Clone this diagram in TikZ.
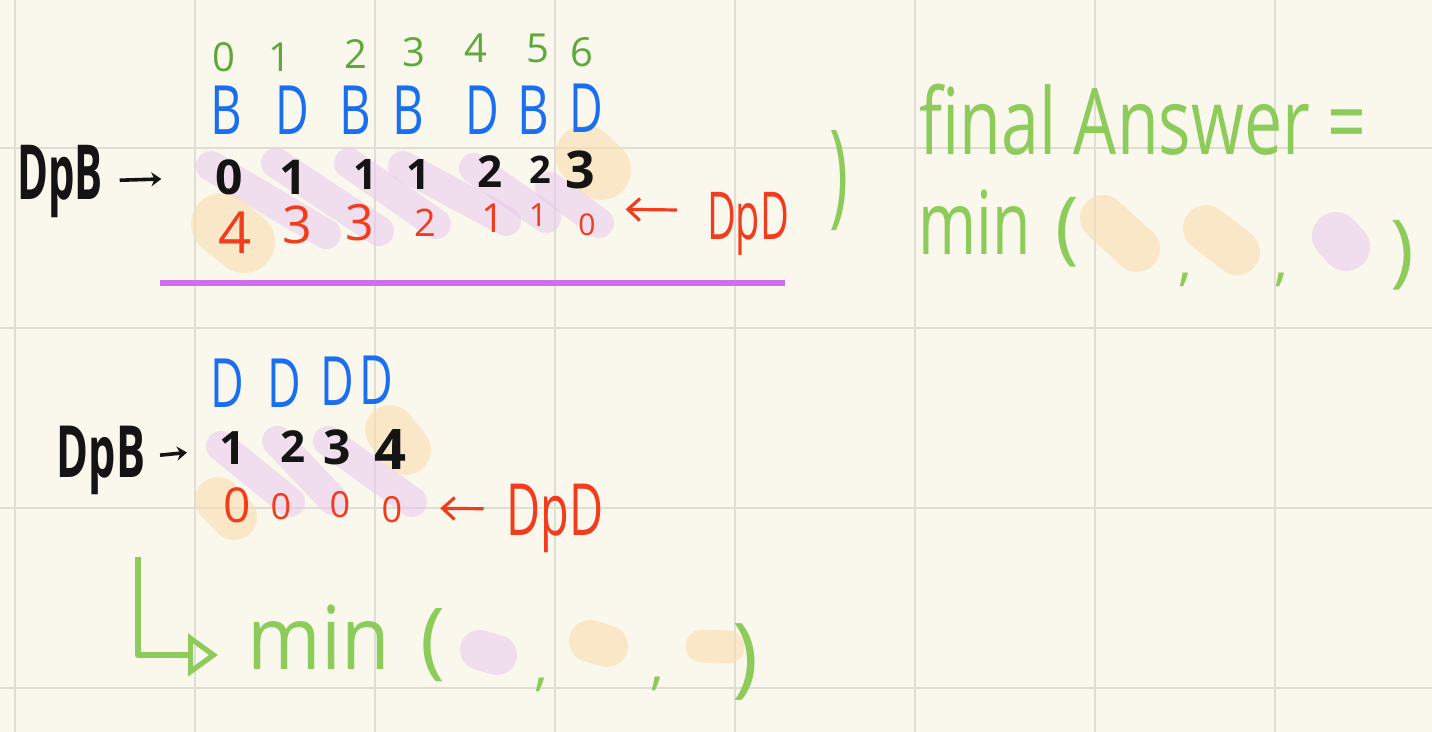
\documentclass[tikz,border=0pt]{standalone}
\usepackage{fontspec}
\setmainfont{Open Sans}
\usetikzlibrary{arrows.meta}
\newcommand\nar[2]{\scalebox{#1}[1]{#2}}
\newcommand\fs[1]{\fontsize{#1}{#1}\selectfont}
\definecolor{bgc}{HTML}{FAF8EC}
\definecolor{gridc}{HTML}{DEDDD6}
\definecolor{idxg}{HTML}{5FA83A}
\definecolor{lgreen}{HTML}{8DCB5A}
\definecolor{lblue}{HTML}{1A6EF0}
\definecolor{lred}{HTML}{F23C1E}
\definecolor{ink}{HTML}{141414}
\definecolor{uline}{HTML}{D06EF0}
\definecolor{hpurple}{HTML}{E9C8EE}
\definecolor{horange}{HTML}{FADDB0}
\begin{document}
\begin{tikzpicture}[x=0.5pt,y=-0.5pt,
  t/.style={inner sep=0pt, outer sep=0pt},
  idx/.style={t, text=idxg, font=\fs{20}},
  lett/.style={t, text=lblue, font=\fs{34}},
  bk/.style={t, text=ink, font=\bfseries\fs{24}},
  rd/.style={t, text=lred, font=\fs{24}},
  gr/.style={t, text=lgreen},
  hlp/.style={line width=15pt, line cap=round, draw=hpurple, draw opacity=0.55},
  hlo/.style={line cap=round, draw=horange, draw opacity=0.6},
  gridline/.style={draw=gridc, line width=1pt},
  arrK/.style={-{Stealth[length=5pt,width=7pt]}, line width=1.8pt, draw=ink},
  arrR/.style={-{Straight Barb[length=6pt,width=11pt]}, line width=1.6pt, draw=lred},
  arrG/.style={-{Triangle[open,length=15pt,width=21pt]}, line width=2.6pt, draw=lgreen},
  uline/.style={draw=uline, line width=2.8pt}
]
\useasboundingbox (0,0) rectangle (1432,732);
\fill[bgc] (0,0) rectangle (1432,732);
% grid
\foreach \gx in {15,195,375,555,735,915,1095,1275} \draw[gridline] (\gx,0) -- (\gx,732);
\foreach \gy in {148,328,508,688} \draw[gridline] (0,\gy) -- (1432,\gy);

% ---------- highlights (top) ----------
\draw[hlp] (211,166) -- (326,234);
\draw[hlp] (276,163) -- (379,231);
\draw[hlp] (349,163) -- (436,224);
\draw[hlp] (403,166) -- (506,221);
\draw[hlp] (474,168) -- (546,218);
\draw[hlp] (550,187) -- (599,223);
\draw[hlo, line width=31pt] (222,224) -- (244,242);
\draw[hlo, line width=30pt] (585,155) -- (601,170);
% final answer blobs
\draw[hlo, line width=23pt] (1103,218) -- (1137,249);
\draw[hlo, line width=23pt] (1206,228) -- (1237,252);
\draw[hlp, line width=24pt] (1336,236) -- (1346,247);

% ---------- highlights (bottom) ----------
\draw[hlp] (221,446) -- (290,502);
\draw[hlp] (277,441) -- (333,500);
\draw[hlp] (328,441) -- (412,502);
\draw[hlo, line width=25pt] (390,430) -- (406,450);
\draw[hlo, line width=23pt] (218,500) -- (234,517);
\draw[hlp, line width=20pt] (480,650) -- (497,655);
\draw[hlo, line width=21pt] (590,641) -- (607,646);
\draw[hlo, line width=16.5pt] (702,646) -- (728,647);

% ---------- top block ----------
\node[idx] (i0) at (224,57) {0};
\node[idx] (i1) at (280,57) {1};
\node[idx] (i2) at (356,54) {2};
\node[idx] (i3) at (414,52) {3};
\node[idx] (i4) at (476,48) {4};
\node[idx] (i5) at (538,48) {5};
\node[idx] (i6) at (582,52) {6};

\node[lett] (l0) at (226,110) {\nar{0.72}{B}};
\node[lett] (l1) at (292,110) {\nar{0.68}{D}};
\node[lett] (l2) at (355,110) {\nar{0.72}{B}};
\node[lett] (l3) at (408,110) {\nar{0.72}{B}};
\node[lett] (l4) at (482,110) {\nar{0.68}{D}};
\node[lett] (l5) at (533,110) {\nar{0.72}{B}};
\node[lett] (l6) at (586,108) {\nar{0.68}{D}};

\node[bk, anchor=base] (dpbT) at (60,200) {\fs{38}\nar{0.55}{DpB}};
\node[bk] (b0) at (229,177) {0};
\node[bk] (b1) at (293,177) {1};
\node[bk, font=\bfseries\fs{21}] (b2) at (365,175) {1};
\node[bk, font=\bfseries\fs{21}] (b3) at (418,175) {1};
\node[bk, font=\bfseries\fs{22}] (b4) at (490,172) {2};
\node[bk, font=\bfseries\fs{19}] (b5) at (540,170) {2};
\node[bk, font=\bfseries\fs{26}] (b6) at (580,170) {3};

\node[rd, font=\fs{29}] (r0) at (235,233) {4};
\node[rd, font=\fs{26}] (r1) at (297,225) {3};
\node[rd, font=\fs{25}] (r2) at (360,223) {3};
\node[rd, font=\fs{19}] (r3) at (425,223) {2};
\node[rd, font=\fs{20}] (r4) at (493,218) {1};
\node[rd, font=\fs{16}] (r5) at (538,215) {1};
\node[rd, font=\fs{15}] (r6) at (587,225) {0};

\node[rd, anchor=base, font=\fs{33}] (dpdT) at (748,240) {\nar{0.6}{DpD}};

\draw[arrK, shorten <=8.5pt, shorten >=27pt] (dpbT) -- (b0);
\draw[arrR, shorten <=15pt, shorten >=15pt] ([yshift=7pt]dpdT.west) -- ([yshift=8pt]r6.east);

\draw[uline] (160,283) -- (785,283);
\node[gr, font=\fs{46}] (closeT) at (839,181) {\scalebox{0.7}[1.25]{)}};

% final answer
\node[gr, anchor=base, font=\fs{46}] (finalA) at (1143,155) {\nar{0.74}{final Answer =}};
\node[gr, anchor=base, font=\fs{44}] (minT) at (975,255) {\nar{0.71}{min}};
\node[gr, font=\fs{40}] (lparT) at (1067,232) {(};
\node[gr, font=\fs{28}] (cmT1) at (1185,280) {,};
\node[gr, font=\fs{28}] (cmT2) at (1281,280) {,};
\node[gr, font=\fs{40}] (rparT) at (1402,255) {)};

% ---------- bottom block ----------
\node[lett] (m0) at (227,383) {\nar{0.68}{D}};
\node[lett] (m1) at (284,383) {\nar{0.68}{D}};
\node[lett] (m2) at (337,381) {\nar{0.68}{D}};
\node[lett] (m3) at (376,380) {\nar{0.68}{D}};

\node[bk, anchor=base] (dpbB) at (101,478) {\fs{36}\nar{0.6}{DpB}};
\node[bk, font=\bfseries\fs{23}] (c0) at (233,448) {1};
\node[bk, font=\bfseries\fs{22}] (c1) at (293,447) {2};
\node[bk, font=\bfseries\fs{24}] (c2) at (337,447) {3};
\node[bk, font=\bfseries\fs{28}] (c3) at (390,450) {4};

\node[rd, font=\fs{24}] (z0) at (237,505) {0};
\node[rd, font=\fs{18}] (z1) at (281,507) {0};
\node[rd, font=\fs{18}] (z2) at (340,505) {0};
\node[rd, font=\fs{18}] (z3) at (392,510) {0};

\node[rd, anchor=base, font=\fs{36}] (dpdB) at (555,536) {\nar{0.65}{DpD}};

\draw[arrK, shorten <=7.5pt, shorten >=16.5pt] (dpbB) -- (c0);
\draw[arrR, shorten <=11.5pt, shorten >=19pt] ([yshift=5pt]dpdB.west) -- ([yshift=1pt]z3.east);

% green L arrow and min
\coordinate (lstart) at (138,557);
\coordinate (ltip) at (218,655);
\draw[arrG, line join=round] (lstart) |- (ltip);

\node[gr, anchor=base, font=\fs{44}] (minB) at (319,670) {\nar{0.9}{min}};
\node[gr, font=\fs{42}] (lparB) at (433,645) {(};
\node[gr, font=\fs{28}] (cmB1) at (541,685) {,};
\node[gr, font=\fs{28}] (cmB2) at (657,684) {,};
\node[gr, font=\fs{44}] (rparB) at (746,662) {)};
\end{tikzpicture}
\end{document}
